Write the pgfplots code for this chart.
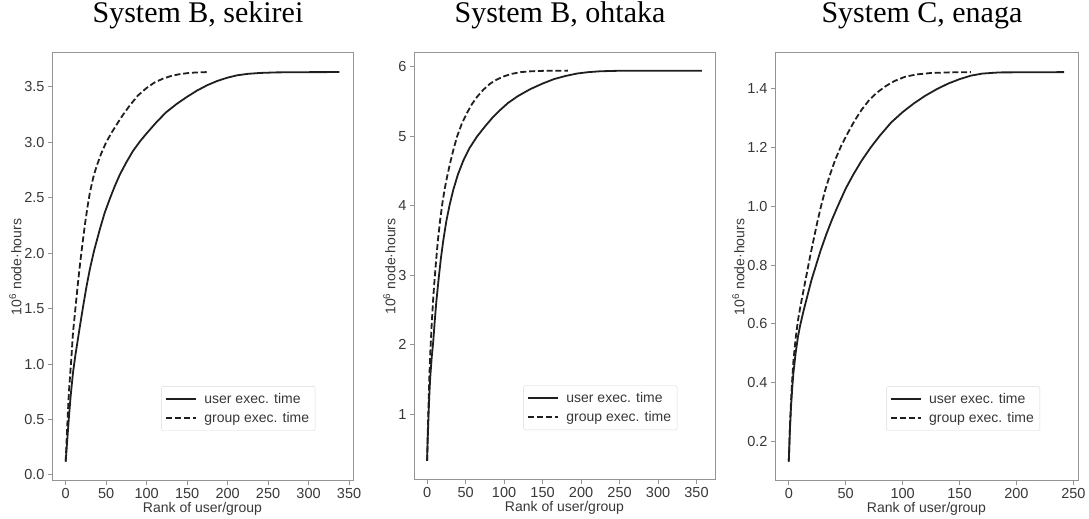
\documentclass[border=0pt]{standalone}
\usepackage{fontspec}
\setmainfont{Liberation Sans}
\newfontfamily\titlefont{Liberation Serif}
\usepackage{pgfplots}
\pgfplotsset{compat=1.18}

\pgfplotsset{
  cdf/.style={
    scale only axis,
    anchor=south west,
    axis line style={black!42, line width=1pt},
    major tick style={black!42, line width=0.9pt},
    tick align=outside,
    major tick length=4pt,
    xtick pos=bottom, ytick pos=left,
    /pgf/number format/assume math mode=true,
    ticklabel style={font=\fontsize{14.5}{16}\selectfont, text=black!78},
    label style={font=\fontsize{14}{16}\selectfont, text=black!78},
    xlabel={Rank of user/group},
    ylabel={10\textsuperscript{6} node·hours},
    xlabel style={yshift=3pt},
    ylabel style={yshift=-4pt},
    title style={at={(0.485,1)}, anchor=base, yshift=24pt,
      font=\titlefont\fontsize{30}{34}\selectfont},
    legend cell align=left,
    legend style={at={(0.875,0.117)}, anchor=south east,
      draw=black!15, rounded corners=2pt,
      font=\fontsize{14}{16}\selectfont, text=black!78,
      inner xsep=4pt, inner ysep=5pt, row sep=3pt,
      /tikz/every odd column/.append style={column sep=5pt}},
    legend image code/.code={\draw[#1] (0pt,0pt) -- (30pt,0pt);},
  },
  user/.style={black!88, line width=1.8pt, line join=round},
  group/.style={black!88, line width=1.8pt, dash pattern=on 6pt off 2.8pt},
}

\begin{document}
\begin{tikzpicture}
\path[use as bounding box] (0pt,0pt) rectangle (1089pt,519pt);

% ---- System B, sekirei ----
\begin{axis}[cdf, at={(52pt,38pt)}, width=301pt, height=428pt,
  title={System B, sekirei},
  xmin=-16.9, xmax=354.9, ymin=-0.055, ymax=3.805,
  xtick={0,50,...,350}, ytick={0,0.5,...,3.5},
  yticklabel style={/pgf/number format/.cd, fixed, fixed zerofill, precision=1},
]
\addplot[user] coordinates {
 (0,0.12) (2,0.32) (4,0.52) (6,0.70) (9,0.92) (12,1.08) (15,1.22) (18,1.36)
 (22,1.54) (26,1.71) (30,1.86) (35,2.02) (42,2.21) (48,2.36) (55,2.50)
 (61,2.61) (67,2.71) (75,2.82) (83,2.92) (92,3.01) (100,3.08) (112,3.18)
 (124,3.27) (137,3.345) (150,3.41) (162,3.465) (175,3.515) (187,3.552)
 (200,3.583) (212,3.604) (225,3.617) (240,3.625) (260,3.630) (290,3.632)
 (338,3.633)
};
\addlegendentry{user exec. time}
\addplot[group] coordinates {
 (0,0.12) (2,0.45) (4,0.75) (7,1.05) (9,1.28) (12,1.50) (15,1.72) (18,1.92)
 (21,2.10) (24,2.27) (27,2.42) (30,2.55) (34,2.68) (38,2.78) (44,2.90)
 (50,3.00) (57,3.09) (63,3.16) (71,3.25) (79,3.33) (89,3.42) (100,3.49)
 (110,3.54) (120,3.573) (130,3.597) (140,3.613) (150,3.623) (160,3.629)
 (175,3.633)
};
\addlegendentry{group exec. time}
\end{axis}

% ---- System B, ohtaka ----
\begin{axis}[cdf, at={(414pt,39pt)}, width=301pt, height=427pt,
  title={System B, ohtaka},
  xmin=-17, xmax=374, ymin=0.055, ymax=6.2,
  xtick={0,50,...,350}, ytick={1,2,...,6},
]
\addplot[user] coordinates {
 (0,0.33) (1,0.70) (2,1.02) (3,1.30) (4,1.52) (6,1.82) (8,2.05) (10,2.35)
 (12,2.62) (15,2.95) (18,3.25) (21,3.50) (25,3.78) (29,4.00) (34,4.23)
 (40,4.45) (47,4.65) (55,4.83) (65,5.00) (75,5.14) (85,5.27) (95,5.38)
 (105,5.48) (118,5.58) (134,5.68) (150,5.76) (165,5.825) (180,5.87)
 (195,5.905) (210,5.925) (225,5.937) (245,5.943) (280,5.945) (357,5.945)
};
\addlegendentry{user exec. time}
\addplot[group] coordinates {
 (0,0.33) (1,0.80) (2,1.20) (3,1.55) (4,1.85) (6,2.30) (8,2.68) (10,2.98)
 (12,3.25) (14,3.50) (17,3.80) (20,4.05) (23,4.25) (26,4.42) (30,4.62)
 (34,4.80) (39,5.00) (45,5.18) (52,5.34) (58,5.46) (65,5.57) (73,5.67)
 (82,5.76) (91,5.82) (100,5.865) (110,5.90) (122,5.925) (135,5.937)
 (150,5.943) (165,5.945) (183,5.946)
};
\addlegendentry{group exec. time}
\end{axis}

% ---- System C, enaga ----
\begin{axis}[cdf, at={(775pt,38pt)}, width=303pt, height=428pt,
  title={System C, enaga},
  xmin=-12.1, xmax=254.1, ymin=0.066, ymax=1.521,
  xtick={0,50,...,250}, ytick={0.2,0.4,...,1.4},
  yticklabel style={/pgf/number format/.cd, fixed, fixed zerofill, precision=1},
]
\addplot[user] coordinates {
 (0,0.132) (1,0.24) (2,0.32) (3,0.38) (4,0.43) (6,0.50) (8,0.555) (10,0.595)
 (13,0.645) (16,0.69) (20,0.75) (24,0.80) (28,0.85) (33,0.905) (38,0.955)
 (43,1.00) (50,1.06) (57,1.11) (64,1.155) (72,1.20) (80,1.24) (90,1.285)
 (100,1.32) (110,1.35) (120,1.376) (130,1.398) (140,1.417) (150,1.432)
 (160,1.444) (170,1.451) (185,1.455) (242,1.456)
};
\addlegendentry{user exec. time}
\addplot[group] coordinates {
 (0,0.132) (1,0.25) (2,0.34) (3,0.41) (4,0.47) (6,0.55) (8,0.61) (10,0.655)
 (13,0.715) (16,0.775) (19,0.835) (22,0.89) (25,0.945) (28,0.995) (32,1.055)
 (36,1.105) (41,1.16) (46,1.205) (52,1.25) (58,1.292) (64,1.328) (70,1.358)
 (77,1.385) (85,1.408) (93,1.426) (102,1.440) (112,1.448) (125,1.453)
 (140,1.455) (160,1.456)
};
\addlegendentry{group exec. time}
\end{axis}
\end{tikzpicture}
\end{document}
